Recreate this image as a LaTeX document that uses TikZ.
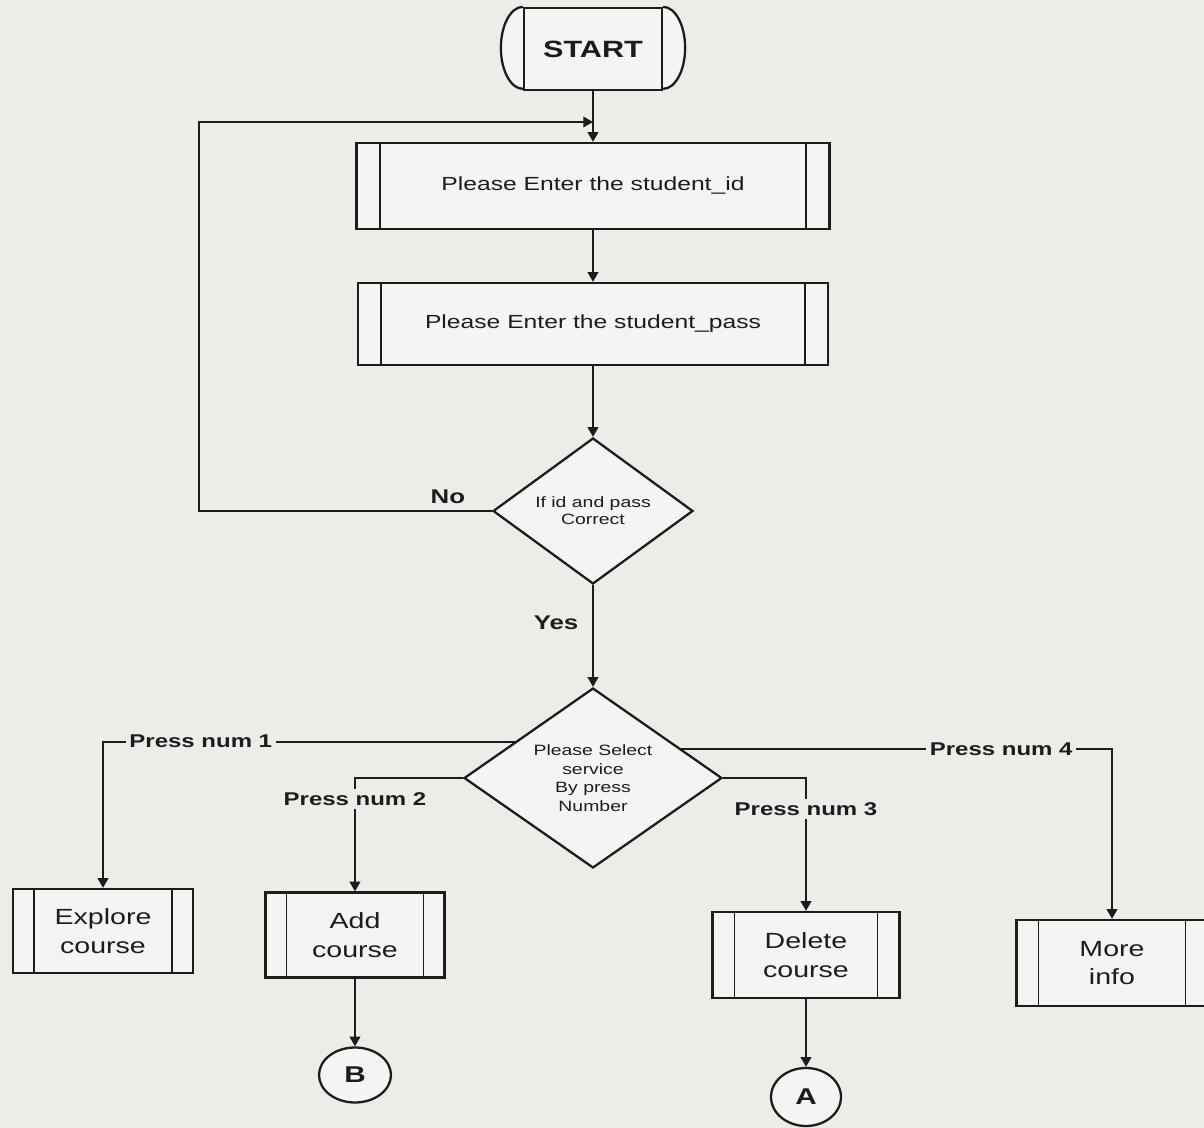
\documentclass[tikz,border=0pt]{standalone}
\usepackage{fontspec}
\setmainfont{Liberation Sans}[FakeStretch=1.3]
\usetikzlibrary{shapes.geometric,arrows.meta,calc}
\definecolor{paper}{RGB}{236,236,233}
\definecolor{boxfill}{RGB}{244,244,242}
\definecolor{ink}{RGB}{28,28,28}

\begin{document}
\begin{tikzpicture}[x=0.02cm,y=-0.02cm,color=ink,line width=1.1pt,
  flow/.style={-{Triangle[length=5.5pt,width=6pt]}},
  subproc/.style={draw,fill=boxfill,rectangle,inner sep=0pt,align=center,line width=1.3pt,
    path picture={\draw[line width=1.1pt]
      ([xshift=#1]path picture bounding box.north west) -- ([xshift=#1]path picture bounding box.south west)
      ([xshift=-#1]path picture bounding box.north east) -- ([xshift=-#1]path picture bounding box.south east);}},
  subproc/.default=0.44cm,
  bigtext/.style={font=\fontsize{10.8}{13}\selectfont},
  smalltext/.style={font=\fontsize{12.5}{16.4}\selectfont},
  decision/.style={draw,fill=boxfill,diamond,inner sep=0pt,align=center,line width=1.3pt},
  choice/.style={font=\bfseries\fontsize{10.5}{12}\selectfont,fill=paper,inner sep=2pt},
  answer/.style={font=\bfseries\fontsize{11.3}{13}\selectfont,inner sep=1pt},
  connector/.style={draw,fill=boxfill,ellipse,inner sep=0pt,line width=1.3pt,
    font=\bfseries\fontsize{13}{15}\selectfont}]

% sheet
\path[use as bounding box,fill=paper] (0,0) rectangle (1204,1128);

% terminal
\node[draw,fill=boxfill,line width=1.3pt,minimum width=2.76cm,minimum height=1.64cm,
  font=\bfseries\fontsize{13.4}{15}\selectfont] (start) at (593,49) {START};
\draw[fill=boxfill,line width=1.3pt] (start.north west)
  arc[start angle=90,end angle=270,x radius=0.44cm,y radius=0.82cm];
\draw[fill=boxfill,line width=1.3pt] (start.north east)
  arc[start angle=90,end angle=-90,x radius=0.44cm,y radius=0.82cm];

% login steps
\node[subproc=0.46cm,bigtext,minimum width=9.46cm,minimum height=1.72cm] (id) at (593,186)
  {Please Enter the student\_id};
\node[subproc=0.46cm,bigtext,minimum width=9.4cm,minimum height=1.64cm] (pass) at (593,324)
  {Please Enter the student\_pass};
\node[decision,shape aspect=1.37,minimum width=4cm,minimum height=2.92cm,
  font=\fontsize{8.5}{9.6}\selectfont] (dec1) at (593,511) {If id and pass\\Correct};

% service menu
\node[decision,shape aspect=1.43,minimum width=5.16cm,minimum height=3.6cm,
  font=\fontsize{8.5}{10.6}\selectfont] (dec2) at (593,778)
  {Please Select\\service\\By press\\Number};

% services
\node[subproc=0.42cm,smalltext,minimum width=3.6cm,minimum height=1.68cm] (explore) at (103,931)
  {Explore\\course};
\node[subproc=0.42cm,smalltext,minimum width=3.58cm,minimum height=1.7cm] (add) at (355,935)
  {Add\\course};
\node[subproc=0.44cm,smalltext,minimum width=3.74cm,minimum height=1.72cm] (del) at (806,955)
  {Delete\\course};
\node[subproc=0.44cm,smalltext,minimum width=3.82cm,minimum height=1.72cm] (more) at (1112,963)
  {More\\info};

% off-page connectors
\node[connector,minimum width=1.44cm,minimum height=1.1cm] (conB) at (355,1075) {B};
\node[connector,minimum width=1.4cm,minimum height=1.16cm] (conA) at (806,1097) {A};

% main column
\draw[flow] (start.south) -- (id.north);
\draw[flow] (id.south) -- (pass.north);
\draw[flow] (pass.south) -- (dec1.north);
\draw[flow] (dec1.south) -- (dec2.north);

% retry loop
\coordinate (loop) at (199,122);
\coordinate (join) at (start.south |- loop);
\draw[flow] (dec1.west) -| (loop) -- (join);
\node[answer] (no) at ($(dec1.west)+(-44,-14)$) {No};
\node[answer] (yes) at ($(dec1.south)+(-37,38)$) {Yes};

% menu branches
\coordinate (p1) at ($(dec2.west)!0.4!(dec2.north)$);
\coordinate (c1) at (p1 -| explore.north);
\draw[flow] (p1) -- (c1) -- (explore.north);
\node[choice,anchor=west] (l1) at ($(c1)+(22,0)$) {Press num 1};

\coordinate (c2) at (dec2.west -| add.north);
\draw[flow] (dec2.west) -- (c2) -- (add.north);
\node[choice] (l2) at ($(c2)+(0,21)$) {Press num 2};

\coordinate (c3) at (dec2.east -| del.north);
\draw[flow] (dec2.east) -- (c3) -- (del.north);
\node[choice] (l3) at ($(c3)+(0,31)$) {Press num 3};

\coordinate (p4) at ($(dec2.east)!0.32!(dec2.north)$);
\coordinate (c4) at (p4 -| more.north);
\draw[flow] (p4) -- (c4) -- (more.north);
\node[choice,anchor=east] (l4) at ($(c4)+(-35,0)$) {Press num 4};

% continuations
\draw[flow] (add.south) -- (conB.north);
\draw[flow] (del.south) -- (conA.north);
\end{tikzpicture}
\end{document}
